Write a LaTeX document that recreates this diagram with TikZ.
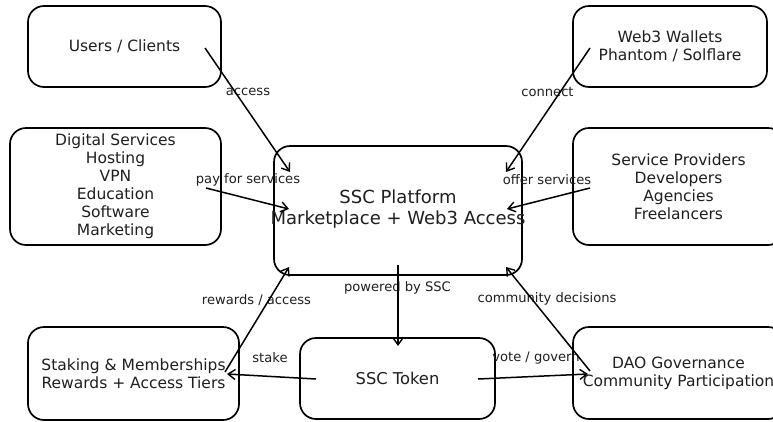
\documentclass[tikz,border=0pt]{standalone}
\usepackage{fontspec}
\setmainfont{DejaVu Sans}
\usetikzlibrary{arrows.meta}
\begin{document}
\begin{tikzpicture}[x=1pt,y=-1pt,
  box/.style={draw=black,line width=1.7pt,rounded corners=16pt,fill=white,inner sep=0pt,align=center,text=black!88,font=\fontsize{15.5}{18}\selectfont},
  lbl/.style={inner sep=0pt,text=black!88,font=\fontsize{13.1}{15}\selectfont},
  arr/.style={line width=1.5pt,-{Straight Barb[length=7pt,width=10pt,line width=1.4pt]}}]
\useasboundingbox (0,0) rectangle (773,421);
\fill[white] (0,0) rectangle (773,421);
% boxes
\node[box,minimum width=193pt,minimum height=81pt] (users) at (124.5,46.5) {Users / Clients};
\node[box,minimum width=194pt,minimum height=81pt] (wallets) at (670,46.5) {Web3 Wallets\\Phantom / Solflare};
\node[box,minimum width=211pt,minimum height=117pt] (digital) at (115.5,186.5) {Digital Services\\Hosting\\VPN\\Education\\Software\\Marketing};
\node[box,minimum width=211pt,minimum height=117pt] (providers) at (678.5,186.5) {Service Providers\\Developers\\Agencies\\Freelancers};
\node[box,minimum width=248pt,minimum height=129pt] (platform) at (398,210.5) {};
\node[inner sep=0pt,align=center,text=black!88,font=\fontsize{18}{21}\selectfont] (platformtext) at (398,209.5) {SSC Platform\\Marketplace + Web3 Access};
\node[box,minimum width=211pt,minimum height=93pt] (staking) at (133.5,373.5) {Staking \& Memberships\\Rewards + Access Tiers};
\node[box,minimum width=195pt,minimum height=81pt,font=\fontsize{16.3}{19}\selectfont] (token) at (397.5,378.5) {SSC Token};
\node[box,minimum width=211pt,minimum height=92pt] (dao) at (678.5,373) {DAO Governance\\Community Participation};
% labels
\node[lbl] (l1) at (248,92) {access};
\node[lbl] (l2) at (547.5,92) {connect};
\node[lbl] (l3) at (248,180) {pay for services};
\node[lbl] (l4) at (547,180) {offer services};
\node[lbl] (l5) at (397.5,288) {powered by SSC};
\node[lbl] (l6) at (256.5,300) {rewards / access};
\node[lbl] (l7) at (270,358) {stake};
\node[lbl] (l8) at (536,358) {vote / govern};
\node[lbl] (l9) at (547,299) {community decisions};
% arrows
\draw[arr] ([shift={(80.5,1.5)}]users.center) -- ([shift={(-108,-38.5)}]platform.center);
\draw[arr] ([shift={(-80,1.5)}]wallets.center) -- ([shift={(108,-38.5)}]platform.center);
\draw[arr] ([shift={(90.5,1.5)}]digital.center) -- ([shift={(-109,-1.5)}]platform.center);
\draw[arr] ([shift={(-88.5,1.5)}]providers.center) -- ([shift={(109,-1.5)}]platform.center);
\draw[arr] ([shift={(0,54.5)}]platform.center) -- ([shift={(0.5,-32.5)}]token.center);
\draw[arr] ([shift={(91.5,-1.5)}]staking.center) -- ([shift={(-109,56.5)}]platform.center);
\draw[arr] ([shift={(-81.5,0.5)}]token.center) -- ([shift={(93.5,0.5)}]staking.center);
\draw[arr] ([shift={(80.5,0.5)}]token.center) -- ([shift={(-90.5,1)}]dao.center);
\draw[arr] ([shift={(-88.5,-2)}]dao.center) -- ([shift={(108,56.5)}]platform.center);
\end{tikzpicture}
\end{document}
